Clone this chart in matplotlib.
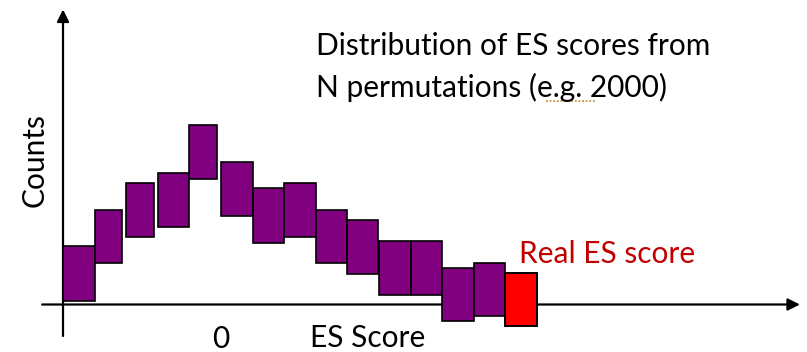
import matplotlib
matplotlib.use("Agg")
import matplotlib.pyplot as plt

# ---- data (ES score bins and count ranges of each permutation box) ----
bin_left = [-5, -4, -3, -2, -1, 0, 1, 2, 3, 4, 5, 6, 7, 8]
bin_width = [1.0, 0.87, 0.87, 1.0, 0.87, 1.0, 1.0, 1.0, 1.0, 0.97, 1.0, 1.0, 1.0, 1.0]
box_bottom = [0.4, 4.2, 6.8, 7.8, 12.6, 8.9, 6.2, 6.8, 4.2, 3.1, 1.0, 1.0, -1.6, -1.1]
box_top = [5.9, 9.5, 12.2, 13.2, 18.0, 14.3, 11.7, 12.2, 9.5, 8.5, 6.4, 6.4, 3.7, 4.2]

real_left = 9
real_width = 1.0
real_bottom = -2.1
real_top = 3.2

title_lines = ["Distribution of ES scores from", "N permutations (e.g. 2000)"]
x_label = "ES Score"
y_label = "Counts"
zero_label = "0"
real_label = "Real ES score"

PURPLE = "#800080"
RED = "#FF0000"
TEXT_RED = "#C00000"
FONT = ["Lato", "DejaVu Sans"]
FS = 21.5

fig = plt.figure(figsize=(8.07, 3.52), dpi=100)
ax = fig.add_axes([0, 0, 1, 1])
ax.set_xlim(-6.994, 18.544)
ax.set_ylim(-4.75, 30.45)
ax.axis("off")

# axes arrows
arrow_kw = dict(arrowstyle="-|>", mutation_scale=18, lw=1.6, color="black",
                shrinkA=0, shrinkB=0)
ax.annotate("", xy=(-5.0, 29.5), xytext=(-5.0, -3.15), arrowprops=arrow_kw)
ax.annotate("", xy=(18.32, 0), xytext=(-5.66, 0), arrowprops=arrow_kw)

# permutation boxes
heights = [t - b for t, b in zip(box_top, box_bottom)]
ax.bar(bin_left, heights, width=bin_width, bottom=box_bottom, align="edge",
       color=PURPLE, edgecolor="black", linewidth=1.2, zorder=3)
ax.bar([real_left], [real_top - real_bottom], width=real_width, bottom=[real_bottom],
       align="edge", color=RED, edgecolor="black", linewidth=1.4, zorder=3)

# texts
ax.text(3.0, 24.95, title_lines[0], fontsize=FS, family=FONT, va="baseline", ha="left")
ax.text(3.0, 20.78, title_lines[1], fontsize=FS, family=FONT, va="baseline", ha="left")
ax.plot([10.3, 11.84], [20.35, 20.35], linestyle=(0, (1, 1)), color="#C8963C", lw=1.3)

ax.text(-5.89, 14.45, y_label, fontsize=FS, family=FONT, rotation=90,
        ha="center", va="center")
ax.text(0.0, -4.35, zero_label, fontsize=FS, family=FONT, ha="center", va="baseline")
ax.text(2.82, -4.22, x_label, fontsize=FS, family=FONT, ha="left", va="baseline")
ax.text(9.44, 4.12, real_label, fontsize=FS, family=FONT, color=TEXT_RED,
        ha="left", va="baseline")

fig.savefig("out.png", dpi=100)
